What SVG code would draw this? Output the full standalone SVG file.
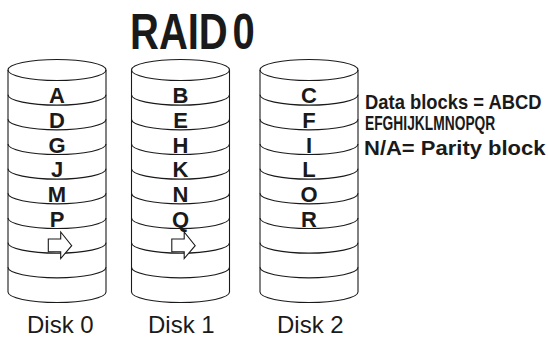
<svg xmlns="http://www.w3.org/2000/svg" width="548" height="337" viewBox="0 0 548 337">
<style>
.blk{font-family:"Liberation Sans",Arial,sans-serif;font-weight:bold;font-size:22px;fill:#1a1a1a;text-anchor:middle}
.lbl{font-family:"Liberation Sans",Arial,sans-serif;font-size:24px;fill:#1a1a1a}
.side{font-family:"Liberation Sans",Arial,sans-serif;font-weight:bold;font-size:20px;fill:#1a1a1a}
</style>
<defs>
<g id="cyl" fill="none" stroke="#1a1a1a" stroke-width="1.1">
<ellipse cx="0" cy="70" rx="49" ry="10.5"/>
<line x1="-49" y1="70" x2="-49" y2="292"/>
<line x1="49" y1="70" x2="49" y2="292"/>
<path d="M-49,94.67 A49,10.5 0 0 0 49,94.67"/>
<path d="M-49,119.33 A49,10.5 0 0 0 49,119.33"/>
<path d="M-49,144 A49,10.5 0 0 0 49,144"/>
<path d="M-49,168.67 A49,10.5 0 0 0 49,168.67"/>
<path d="M-49,193.33 A49,10.5 0 0 0 49,193.33"/>
<path d="M-49,218 A49,10.5 0 0 0 49,218"/>
<path d="M-49,242.67 A49,10.5 0 0 0 49,242.67"/>
<path d="M-49,267.33 A49,10.5 0 0 0 49,267.33"/>
<path d="M-49,292 A49,10.5 0 0 0 49,292"/>
</g>
<polygon id="arr" fill="#fff" stroke="#1a1a1a" stroke-width="1.1" points="-8.7,239 3.7,239 3.7,232 14.7,245.7 3.7,258.5 3.7,251.7 -8.7,251.7"/>
</defs>
<g id="title">
<text transform="translate(130,49) scale(0.8,1)" font-family="'Liberation Sans',Arial,sans-serif" font-weight="bold" font-size="50" fill="#1a1a1a">RAID<tspan dx="6">0</tspan></text>
</g>
<g id="disk0" transform="translate(57,0)">
<use href="#cyl"/>
<text class="blk" x="0" y="103">A</text>
<text class="blk" x="0" y="128">D</text>
<text class="blk" x="0" y="152.5">G</text>
<text class="blk" x="0" y="177">J</text>
<text class="blk" x="0" y="202">M</text>
<text class="blk" x="0" y="226.5">P</text>
<use href="#arr"/>
</g>
<g id="disk1" transform="translate(180.5,0)">
<use href="#cyl"/>
<text class="blk" x="0" y="103">B</text>
<text class="blk" x="0" y="128">E</text>
<text class="blk" x="0" y="152.5">H</text>
<text class="blk" x="0" y="177">K</text>
<text class="blk" x="0" y="202">N</text>
<text class="blk" x="0" y="226.5">Q</text>
<use href="#arr"/>
</g>
<g id="disk2" transform="translate(309,0)">
<use href="#cyl"/>
<text class="blk" x="0" y="103">C</text>
<text class="blk" x="0" y="128">F</text>
<text class="blk" x="0" y="152.5">I</text>
<text class="blk" x="0" y="177">L</text>
<text class="blk" x="0" y="202">O</text>
<text class="blk" x="0" y="226.5">R</text>
</g>
<g id="labels">
<text class="lbl" x="27" y="333">Disk 0</text>
<text class="lbl" x="148" y="333">Disk 1</text>
<text class="lbl" x="277" y="333">Disk 2</text>
</g>
<g id="legend">
<text class="side" transform="translate(365,109) scale(0.92,1)">Data blocks = ABCD</text>
<text class="side" transform="translate(365,130) scale(0.69,1)">EFGHIJKLMNOPQR</text>
<text class="side" transform="translate(364,155) scale(1.1,1)">N/A= Parity block</text>
</g>
</svg>
